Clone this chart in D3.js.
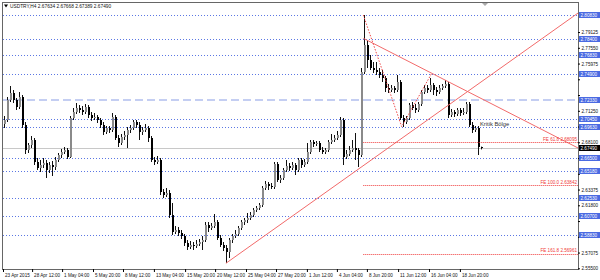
<!DOCTYPE html>
<html>
<head>
<meta charset="utf-8">
<script src="https://cdn.jsdelivr.net/npm/d3@7"></script>
<style>
  body { margin: 0; background: #fff; }
  svg text { font-family: "Liberation Sans", Arial, sans-serif; }
</style>
</head>
<body>
<div id="chart"></div>
<script>
// USDTRY H4 candles, [open, high, low, close]
const symbol = "USDTRY,H4";
const ohlc = [
  [2.6993,2.7073,2.6953,2.7033],[2.7033,2.7263,2.7013,2.7233],[2.7233,2.7373,2.7213,2.7303],[2.7303,2.7333,2.7203,2.7233],
  [2.7233,2.7253,2.7133,2.7163],[2.7163,2.7313,2.7143,2.7263],[2.7263,2.7283,2.6953,2.6983],[2.6983,2.7013,2.6693,2.6733],
  [2.6733,2.6803,2.6703,2.6783],[2.6783,2.6873,2.6753,2.6833],[2.6833,2.6853,2.6583,2.6613],[2.6613,2.6653,2.6533,2.6553],
  [2.6553,2.6633,2.6513,2.6583],[2.6583,2.6653,2.6553,2.6603],[2.6603,2.6633,2.6453,2.6533],[2.6533,2.6613,2.6503,2.6583],
  [2.6583,2.6623,2.6473,2.6563],[2.6563,2.6663,2.6533,2.6633],[2.6633,2.6703,2.6613,2.6683],[2.6683,2.6743,2.6653,2.6713],
  [2.6713,2.6763,2.6693,2.6733],[2.6733,2.6753,2.6643,2.6663],[2.6663,2.7073,2.6653,2.7053],[2.7053,2.7153,2.7033,2.7113],
  [2.7113,2.7203,2.7093,2.7153],[2.7153,2.7183,2.7103,2.7133],[2.7133,2.7173,2.7083,2.7113],[2.7113,2.7193,2.7093,2.7163],
  [2.7163,2.7183,2.7053,2.7083],[2.7083,2.7113,2.7023,2.7053],[2.7053,2.7103,2.7033,2.7063],[2.7063,2.7083,2.7003,2.7033],
  [2.7033,2.7053,2.6953,2.6983],[2.6983,2.7013,2.6883,2.6913],[2.6913,2.6973,2.6893,2.6953],[2.6953,2.6973,2.6903,2.6933],
  [2.6933,2.7103,2.6913,2.7063],[2.7063,2.7083,2.6833,2.6853],[2.6853,2.6883,2.6763,2.6803],[2.6803,2.6893,2.6783,2.6863],
  [2.6863,2.6923,2.6833,2.6883],[2.6883,2.6963,2.6753,2.6933],[2.6933,2.6983,2.6903,2.6953],[2.6953,2.7033,2.6933,2.7013],
  [2.7013,2.7033,2.6953,2.6983],[2.6983,2.7013,2.6833,2.6913],[2.6913,2.6963,2.6883,2.6933],[2.6933,2.6993,2.6913,2.6953],
  [2.6953,2.6973,2.6813,2.6853],[2.6853,2.6873,2.6613,2.6633],[2.6633,2.6663,2.6583,2.6613],[2.6613,2.6673,2.6593,2.6633],
  [2.6633,2.6653,2.6283,2.6313],[2.6313,2.6343,2.6253,2.6283],[2.6283,2.6353,2.6263,2.6303],[2.6303,2.6333,2.6053,2.6083],
  [2.6083,2.6203,2.5883,2.5913],[2.5913,2.5973,2.5893,2.5933],[2.5933,2.5963,2.5873,2.5903],[2.5903,2.5933,2.5843,2.5873],
  [2.5873,2.5893,2.5773,2.5803],[2.5803,2.5833,2.5733,2.5763],[2.5763,2.5823,2.5743,2.5783],[2.5783,2.5813,2.5733,2.5773],
  [2.5773,2.5833,2.5753,2.5793],[2.5793,2.5843,2.5773,2.5813],[2.5813,2.5873,2.5733,2.5833],[2.5833,2.6013,2.5813,2.5983],
  [2.5983,2.6013,2.5913,2.5953],[2.5953,2.6003,2.5933,2.5973],[2.5973,2.6093,2.5953,2.6013],[2.6013,2.6033,2.5833,2.5853],
  [2.5853,2.5883,2.5763,2.5783],[2.5783,2.5813,2.5723,2.5753],[2.5753,2.5783,2.5603,2.5713],[2.5713,2.5853,2.5653,2.5833],
  [2.5833,2.5893,2.5803,2.5873],[2.5873,2.5933,2.5853,2.5893],[2.5893,2.5973,2.5873,2.5953],[2.5953,2.6033,2.5933,2.6013],
  [2.6013,2.6053,2.5983,2.6033],[2.6033,2.6103,2.6003,2.6053],[2.6053,2.6113,2.6033,2.6083],[2.6083,2.6153,2.6063,2.6133],
  [2.6133,2.6173,2.6113,2.6153],[2.6153,2.6203,2.6133,2.6183],[2.6183,2.6373,2.6163,2.6353],[2.6353,2.6423,2.6333,2.6393],
  [2.6393,2.6413,2.6333,2.6373],[2.6373,2.6403,2.6343,2.6363],[2.6363,2.6613,2.6343,2.6593],[2.6593,2.6613,2.6413,2.6433],
  [2.6433,2.6483,2.6403,2.6453],[2.6453,2.6553,2.6433,2.6533],[2.6533,2.6633,2.6513,2.6573],[2.6573,2.6603,2.6523,2.6553],
  [2.6553,2.6613,2.6533,2.6583],[2.6583,2.6603,2.6483,2.6533],[2.6533,2.6653,2.6513,2.6633],[2.6633,2.6653,2.6553,2.6583],
  [2.6583,2.6643,2.6563,2.6613],[2.6613,2.6803,2.6593,2.6713],[2.6713,2.6833,2.6693,2.6813],[2.6813,2.6833,2.6763,2.6793],
  [2.6793,2.6823,2.6773,2.6803],[2.6803,2.6823,2.6713,2.6733],[2.6733,2.6763,2.6693,2.6713],[2.6713,2.6753,2.6693,2.6733],
  [2.6733,2.6833,2.6713,2.6813],[2.6813,2.6893,2.6793,2.6833],[2.6833,2.6883,2.6813,2.6853],[2.6853,2.6923,2.6833,2.6883],
  [2.6883,2.7063,2.6863,2.7033],[2.7033,2.7053,2.6583,2.6663],[2.6663,2.6733,2.6643,2.6693],[2.6693,2.6773,2.6673,2.6733],
  [2.6733,2.6833,2.6713,2.6753],[2.6753,2.6903,2.6633,2.6733],[2.6733,2.6753,2.6563,2.6683],[2.6683,2.7553,2.6663,2.7513],
  [2.7513,2.8083,2.7493,2.7783],[2.7783,2.7833,2.7553,2.7633],[2.7633,2.7683,2.7533,2.7553],[2.7553,2.7613,2.7503,2.7533],
  [2.7533,2.7613,2.7483,2.7513],[2.7513,2.7553,2.7453,2.7483],[2.7483,2.7533,2.7413,2.7453],[2.7453,2.7473,2.7313,2.7353],
  [2.7353,2.7393,2.7303,2.7333],[2.7333,2.7383,2.7313,2.7353],[2.7353,2.7373,2.7303,2.7333],[2.7333,2.7483,2.7313,2.7413],
  [2.7413,2.7433,2.7033,2.7053],[2.7053,2.7083,2.6963,2.7013],[2.7013,2.7073,2.6993,2.7053],[2.7053,2.7203,2.7033,2.7183],
  [2.7183,2.7213,2.7133,2.7153],[2.7153,2.7193,2.7103,2.7133],[2.7133,2.7213,2.7113,2.7193],[2.7193,2.7333,2.7173,2.7313],
  [2.7313,2.7383,2.7293,2.7353],[2.7353,2.7383,2.7303,2.7333],[2.7333,2.7453,2.7313,2.7383],[2.7383,2.7403,2.7283,2.7333],
  [2.7333,2.7363,2.7273,2.7313],[2.7313,2.7383,2.7293,2.7353],[2.7353,2.7393,2.7333,2.7373],[2.7373,2.7433,2.7353,2.7393],
  [2.7393,2.7413,2.7053,2.7083],[2.7083,2.7143,2.7063,2.7113],[2.7113,2.7133,2.7063,2.7093],[2.7093,2.7153,2.7073,2.7133],
  [2.7133,2.7153,2.7073,2.7103],[2.7103,2.7153,2.7083,2.7113],[2.7113,2.7213,2.7093,2.7193],[2.7193,2.7213,2.6963,2.6983],
  [2.6983,2.7013,2.6903,2.6933],[2.6933,2.6973,2.6913,2.6953],[2.6953,2.6973,2.6683,2.6763],[2.67634,2.67668,2.67389,2.67490]
];

// right price scale labels
const priceTicks = [2.79125, 2.77550, 2.75975, 2.74400, 2.72825, 2.71250, 2.69675, 2.68100,
                    2.66525, 2.64950, 2.63375, 2.61800, 2.60225, 2.58650, 2.57075, 2.55500];

// time scale labels and the bar index they sit on
const timeLabels = ["23 Apr 2015", "28 Apr 12:00", "1 May 04:00", "5 May 20:00", "8 May 12:00",
                    "13 May 04:00", "15 May 20:00", "20 May 12:00", "25 May 04:00", "27 May 20:00",
                    "1 Jun 12:00", "4 Jun 04:00", "8 Jun 20:00", "11 Jun 12:00", "16 Jun 04:00", "18 Jun 20:00"];
const timeTickAt = [-0.5, 9.2, 19.2, 29.5, 39.5, 49.8, 60.2, 70.2, 80.5, 90.5, 100.8, 110.8, 120.8, 131.2, 141.5, 151.8];

// horizontal levels drawn on the chart
const levels = [2.80830, 2.78400, 2.76830, 2.74900, 2.70450, 2.69630, 2.66500, 2.65180, 2.62530, 2.60700, 2.58830];
const dashedLevel = 2.72330;

// fibonacci expansion: points A, B, C (bar index, price) and resulting levels
const fePoints = [[119.6, 2.8083], [132.4, 2.6966], [142.4, 2.7500]];
const feNames = ["FE 61.8", "FE 100.0", "FE 161.8"];
const feLevels = [2.68095, 2.63842, 2.56961];

// trend lines (bar index, price)
const upTrend = [[73.8, 2.5600], [191.2, 2.8103]];
const downTrend = [[119.6, 2.7850], [191.2, 2.6753]];

const noteText = "Kritik Bölge";
const noteAt = [158.5, 2.6973];

const W = 600, H = 280;
const plot = { left: 3, right: 578, top: 3, bottom: 269 };
const fmt = d3.format(".5f");
const crisp = (v) => Math.round(v) + 0.5;

// scales: one bar every 3px
const x = d3.scaleLinear().domain([0, 159]).range([4.5, 481.5]);
const y = d3.scaleLinear().domain([2.5543, 2.8203]).range([plot.bottom, plot.top]);

const svg = d3.select("#chart").append("svg")
  .attr("width", W)
  .attr("height", H);

svg.append("defs").append("clipPath").attr("id", "plotclip")
  .append("rect")
  .attr("x", plot.left).attr("y", plot.top)
  .attr("width", plot.right - plot.left).attr("height", plot.bottom - plot.top);

const g = svg.append("g").attr("clip-path", "url(#plotclip)");

// dotted blue levels
g.selectAll(".lvl").data(levels).join("line")
  .attr("class", "lvl")
  .attr("x1", plot.left).attr("x2", plot.right)
  .attr("y1", (d) => crisp(y(d))).attr("y2", (d) => crisp(y(d)))
  .attr("stroke", "#5b77e4")
  .attr("stroke-dasharray", "1,2");

// dashed lavender level
g.append("line")
  .attr("x1", plot.left).attr("x2", plot.right)
  .attr("y1", Math.round(y(dashedLevel))).attr("y2", Math.round(y(dashedLevel)))
  .attr("stroke", "#c4cef2")
  .attr("stroke-width", 2)
  .attr("stroke-dasharray", "8,4");

// bid line
const last = ohlc[ohlc.length - 1];
g.append("line")
  .attr("x1", plot.left).attr("x2", plot.right)
  .attr("y1", crisp(y(last[3]))).attr("y2", crisp(y(last[3])))
  .attr("stroke", "#c8c8c8");

// candles
const candle = g.selectAll(".candle").data(ohlc).join("g").attr("class", "candle");
candle.append("line")
  .attr("x1", (d, i) => x(i)).attr("x2", (d, i) => x(i))
  .attr("y1", (d) => y(d[1])).attr("y2", (d) => y(d[2]))
  .attr("stroke", "#111");
candle.append("rect")
  .attr("x", (d, i) => x(i) - 0.5)
  .attr("width", 2)
  .attr("y", (d) => Math.round(y(Math.max(d[0], d[3]))))
  .attr("height", (d) => Math.max(1, Math.round(Math.abs(y(d[0]) - y(d[3])))))
  .attr("fill", (d) => (d[3] >= d[0] ? "#8a8a8a" : "#000"));

// trend lines
const line = d3.line().x((d) => x(d[0])).y((d) => y(d[1]));
g.selectAll(".trend").data([upTrend, downTrend]).join("path")
  .attr("class", "trend")
  .attr("d", line)
  .attr("fill", "none")
  .attr("stroke", "#f26a6a");

// fibo expansion
g.append("path")
  .attr("d", line(fePoints))
  .attr("fill", "none")
  .attr("stroke", "#ef4a4a")
  .attr("stroke-dasharray", "1.5,1.5");

g.selectAll(".fe").data(feLevels).join("line")
  .attr("class", "fe")
  .attr("x1", x(fePoints[0][0])).attr("x2", plot.right)
  .attr("y1", (d) => crisp(y(d))).attr("y2", (d) => crisp(y(d)))
  .attr("stroke", "#f03a3a")
  .attr("stroke-dasharray", "1,1");

g.selectAll(".felabel").data(feLevels).join("text")
  .attr("class", "felabel")
  .attr("x", plot.right - 1)
  .attr("y", (d) => y(d) - 1.2)
  .attr("text-anchor", "end")
  .attr("font-size", 4.6)
  .attr("fill", "#f03a3a")
  .text((d, i) => `${feNames[i]} ${fmt(d)}`);

// note
g.append("text")
  .attr("x", x(noteAt[0]))
  .attr("y", y(noteAt[1]))
  .attr("font-size", 5.8)
  .attr("fill", "#333")
  .text(noteText);

// frame
svg.append("rect")
  .attr("x", plot.left - 0.5).attr("y", plot.top - 0.5)
  .attr("width", plot.right - plot.left + 1).attr("height", plot.bottom - plot.top + 1)
  .attr("fill", "none")
  .attr("stroke", "#666");

// level boxes on the price scale cover the scale labels underneath them
const boxes = levels.concat([dashedLevel, last[3]]);
const covered = (t) => boxes.some((b) => Math.abs(y(b) - y(t)) < 5);

// price axis
svg.append("g")
  .attr("transform", `translate(${plot.right},0)`)
  .call(d3.axisRight(y).tickValues(priceTicks).tickSize(2).tickPadding(1.5)
    .tickFormat((d) => (covered(d) ? "" : fmt(d))))
  .call((a) => a.select(".domain").remove())
  .attr("font-size", 4.6)
  .attr("font-family", null)
  .call((a) => a.selectAll("text").attr("fill", "#111"));

// time axis
svg.append("g")
  .attr("transform", `translate(0,${plot.bottom})`)
  .call(d3.axisBottom(x).tickValues(timeTickAt).tickSize(3).tickPadding(1.5)
    .tickFormat((d, i) => timeLabels[i]))
  .call((a) => a.select(".domain").remove())
  .attr("font-size", 4.6)
  .attr("font-family", null)
  .call((a) => a.selectAll("text").attr("text-anchor", "start").attr("x", 1.5).attr("fill", "#111"));

const box = svg.append("g").selectAll(".box").data(boxes).join("g").attr("class", "box");
box.append("rect")
  .attr("x", plot.right + 1).attr("width", 21)
  .attr("y", (d) => Math.round(y(d)) - 3).attr("height", 6)
  .attr("fill", (d) => (d === last[3] ? "#000" : "#4a6ae2"));
box.append("text")
  .attr("x", plot.right + 2.5).attr("y", (d) => Math.round(y(d)) + 1.7)
  .attr("font-size", 4.6).attr("fill", "#fff")
  .text((d) => fmt(d));

// header
svg.append("path").attr("d", "M4,4.5 L8,4.5 L6,7.5 Z").attr("fill", "#000");
svg.append("text")
  .attr("x", 10).attr("y", 8)
  .attr("font-size", 4.8)
  .attr("fill", "#111")
  .text(`${symbol}  ${last.map(fmt).join(" ")}`);

// chart shift marker
svg.append("path").attr("d", "M482,3 L488,3 L485,6 Z").attr("fill", "#aaa");
</script>
</body>
</html>
